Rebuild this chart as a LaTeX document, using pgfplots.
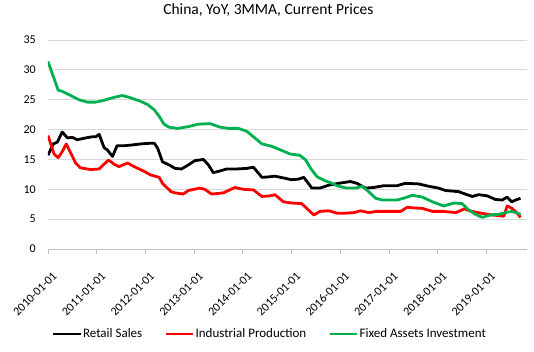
\documentclass[border=0pt]{standalone}
\usepackage{pgfplots}
\pgfplotsset{compat=1.18}
\usepackage{fontspec}
\setmainfont{Carlito}
\definecolor{fgreen}{HTML}{00B050}
\definecolor{gridc}{HTML}{D9D9D9}
\definecolor{axc}{HTML}{BFBFBF}
\begin{document}
\begin{tikzpicture}
\path[use as bounding box] (-48pt,-102pt) rectangle (486pt,249pt);
\begin{axis}[
  at={(0pt,0pt)}, anchor=south west,
  scale only axis, width=479pt, height=209pt,
  xmin=0, xmax=118, ymin=0, ymax=35,
  ytick={0,5,...,35},
  xtick={0,12,...,108},
  xticklabels={2010-01-01,2011-01-01,2012-01-01,2013-01-01,2014-01-01,2015-01-01,2016-01-01,2017-01-01,2018-01-01,2019-01-01},
  axis x line*=bottom, axis y line*=left,
  x axis line style={draw=axc, line width=0.75pt, -},
  y axis line style={draw=none},
  xtick align=outside, major tick length=5pt,
  xtick style={draw=axc, line width=0.75pt},
  ytick style={draw=none},
  ymajorgrids, grid style={draw=gridc, line width=0.75pt},
  /pgf/number format/assume math mode=true,
  xticklabel style={font=\fontsize{12}{14}\selectfont, xshift=4pt, yshift=-17pt, rotate=45, anchor=north east, inner sep=0pt},
  yticklabel style={font=\fontsize{12}{14}\selectfont, anchor=east, inner sep=0pt, xshift=-12pt},
  title={China, YoY, 3MMA, Current Prices},
  title style={font=\fontsize{15.5}{17}\selectfont, at={(0.46,1)}, anchor=base, yshift=20pt},
  legend columns=3,
  legend style={at={(0.462,-0.407)}, anchor=center, draw=none, fill=none,
    font=\fontsize{13}{15}\selectfont, cells={anchor=west},
    nodes={inner xsep=1pt, inner ysep=1pt},
    /tikz/every even column/.append style={column sep=21pt}},
  legend image code/.code={\draw[#1] (0pt,0pt) -- (27.5pt,0pt);},
  every axis plot/.append style={line width=2.8pt, line join=round},
]
\addplot[black] coordinates {
(0,15.7)(1.3,17.6)(2.3,17.9)(3.5,19.6)(4.8,18.6)(6,18.7)(7.2,18.3)(9.3,18.6)(10.9,18.8)(11.8,18.8)
(12.6,19.2)(13.8,17.0)(14.6,16.6)(15.9,15.5)(17,17.3)(18.8,17.3)(20.4,17.4)(22.9,17.6)(24.9,17.7)(26.2,17.7)
(27,16.9)(28.2,14.6)(29.8,14.1)(31.3,13.5)(32.9,13.4)(34.6,14.1)(36.2,14.8)(38.3,15.0)(39.5,14.1)(40.7,12.8)
(42,13.0)(44,13.4)(46.4,13.4)(49,13.5)(50.6,13.7)(52.7,12.0)(54.7,12.1)(55.9,12.2)(58,11.9)(60,11.6)
(61.7,11.7)(63,12.0)(65,10.2)(67,10.2)(69.2,10.7)(71.6,11.0)(74.5,11.3)(76.1,11.0)(78.2,10.2)(80.2,10.3)
(82.7,10.6)(86,10.6)(88,11.0)(91.3,10.9)(93.8,10.5)(96.2,10.2)(97.9,9.8)(101.2,9.6)(102.8,9.2)(104.5,8.8)
(106.1,9.1)(108.2,8.9)(110.2,8.3)(111.9,8.2)(113.1,8.7)(114.2,7.9)(115.2,8.2)(116.4,8.5)
};
\addlegendentry{Retail Sales}
\addplot[red] coordinates {
(0,19.0)(1.5,15.9)(2.5,15.3)(3.5,16.3)(4.5,17.6)(5.6,16.1)(6.8,14.4)(8,13.6)(10.5,13.3)(12.6,13.4)
(13.8,14.2)(14.9,14.9)(16.3,14.2)(17.5,13.8)(19.6,14.4)(21.2,13.8)(23.7,13.0)(25.3,12.4)(27.4,12.0)(28.2,11.0)
(30.3,9.6)(31.3,9.4)(33.3,9.2)(34.6,9.8)(37.4,10.2)(38.6,10.0)(40.3,9.2)(43.2,9.4)(46,10.3)(48.1,10.0)
(50.6,9.9)(52.7,8.8)(54.7,8.9)(55.9,9.1)(58,7.9)(60,7.7)(62.5,7.6)(64.2,6.5)(65.5,5.7)(67,6.3)
(69.2,6.4)(71.2,6.0)(73.3,6.0)(75.4,6.1)(77,6.4)(79,6.1)(81,6.3)(84.4,6.3)(86.9,6.3)(88.5,7.0)
(89.7,6.9)(92.2,6.8)(94.7,6.3)(97.2,6.3)(100.5,6.1)(102.5,6.7)(104.5,6.3)(106.6,6.0)(109.4,5.7)(112.3,5.5)
(113.1,7.2)(114.3,6.8)(115.6,6.0)(116.4,5.3)
};
\addlegendentry{Industrial Production}
\addplot[fgreen] coordinates {
(0,31.4)(2.5,26.6)(3.5,26.4)(5.6,25.7)(7.6,25.0)(9.7,24.6)(11.8,24.6)(13.8,24.9)(16.3,25.4)(18.3,25.7)
(20,25.4)(22.9,24.7)(24.5,24.2)(26.2,23.3)(27.4,22.2)(28.6,20.9)(29.8,20.4)(32,20.2)(34.6,20.5)(37,20.9)
(39.9,21.0)(42.4,20.4)(44.4,20.2)(46.9,20.2)(49,19.7)(50.6,18.8)(52.7,17.6)(55.1,17.2)(57.6,16.5)(59.7,15.9)
(62,15.7)(63.5,14.9)(64.7,13.5)(66.3,12.1)(68,11.5)(69.6,11.1)(71.6,10.5)(73.7,10.2)(75.8,10.2)(77.4,10.5)
(79,9.6)(80.7,8.5)(82.4,8.2)(84.4,8.2)(86,8.2)(88.1,8.6)(89.7,9.0)(92.2,8.7)(94.7,7.9)(97.5,7.2)
(100,7.7)(102,7.6)(103.7,6.5)(105.3,5.8)(107,5.3)(109,5.7)(111,5.8)(112.7,6.1)(114.3,6.3)(116.4,5.8)
};
\addlegendentry{Fixed Assets Investment}
\end{axis}
\end{tikzpicture}
\end{document}
